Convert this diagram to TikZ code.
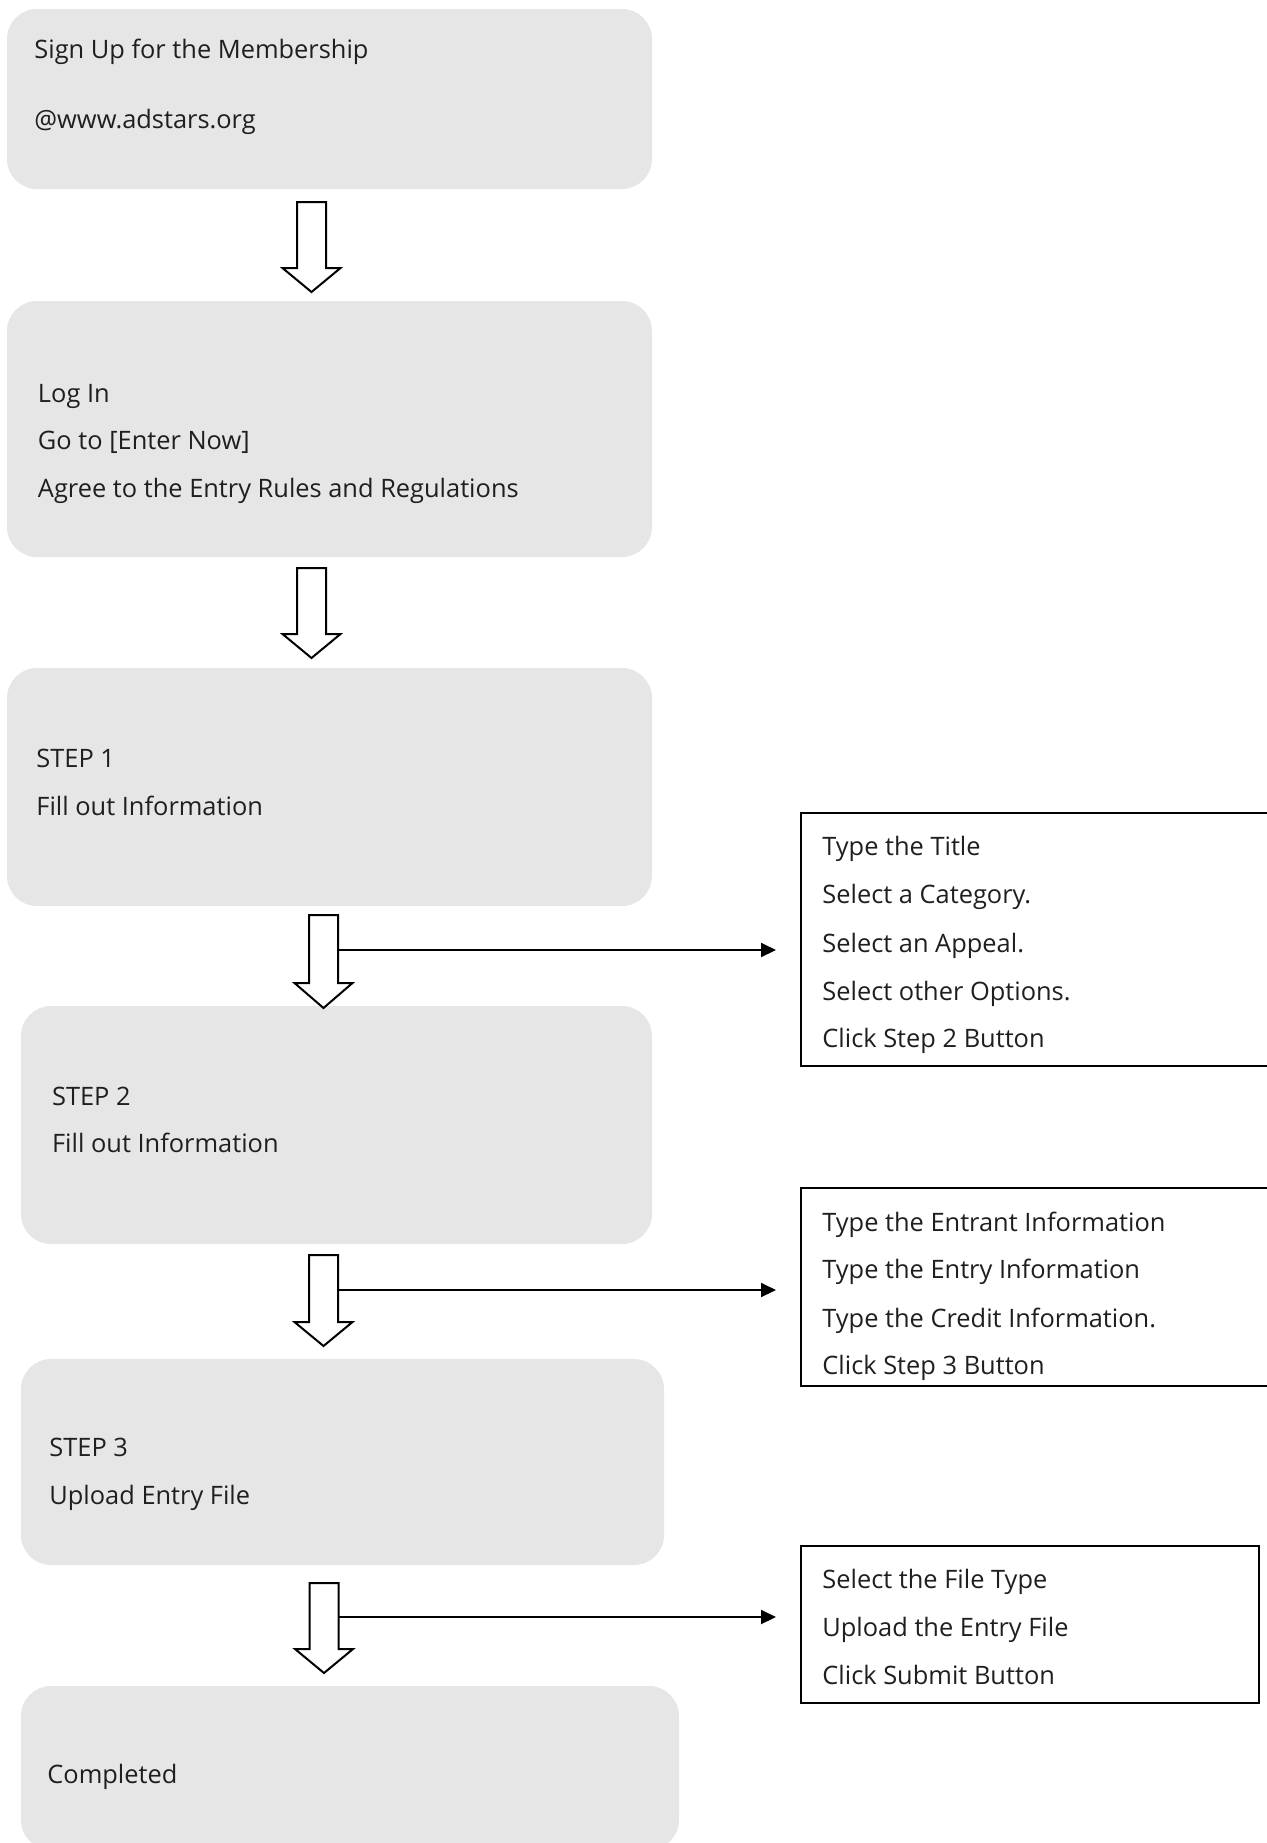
\documentclass[tikz,border=0pt]{standalone}
\usepackage{fontspec}
\setmainfont{Open Sans}
\usetikzlibrary{arrows.meta}
\definecolor{boxgray}{HTML}{E6E6E6}
\newcommand\myblockarrow[4]{%
  % #1 centre x, #2 top y, #3 head y, #4 tip y
  \draw[blk] (#1-14.5,#2) -- (#1+14.5,#2) -- (#1+14.5,#3) -- (#1+29,#3)
    -- (#1,#4) -- (#1-29,#3) -- (#1-14.5,#3) -- cycle;}
\begin{document}
\begin{tikzpicture}[x=0.5pt,y=-0.5pt,
  graybox/.style={fill=boxgray, draw=none, rounded corners=15pt, inner sep=0pt},
  listbox/.style={draw=black, line width=1pt, fill=white, inner sep=0pt},
  lbl/.style={anchor=base west, inner sep=0pt, text=black!88, font=\fontsize{12.7pt}{14pt}\selectfont},
  blk/.style={draw=black, line width=1pt, fill=white, line join=miter},
  conn/.style={line width=1pt, -{Triangle[length=7.5pt,width=7pt]}, shorten >=12pt}]
\useasboundingbox (0,0) rectangle (1266,1843);

% main grey boxes
\node[graybox, minimum width=322.5pt, minimum height=90pt]  (b1) at (329.5,99) {};
\node[graybox, minimum width=322.5pt, minimum height=128pt] (b2) at (329.5,429) {};
\node[graybox, minimum width=322.5pt, minimum height=119pt] (b3) at (329.5,787) {};
\node[graybox, minimum width=315.5pt, minimum height=119pt] (b4) at (336.5,1125) {};
\node[graybox, minimum width=321.5pt, minimum height=103pt] (b5) at (342.5,1462) {};
\node[graybox, minimum width=329pt,   minimum height=82pt]  (b6) at (350,1768) {};

% texts of grey boxes
\node[lbl] (t1a) at (34,58)  {Sign Up for the Membership};
\node[lbl] (t1b) at (34,128) {@www.adstars.org};
\node[lbl] (t2a) at (37.6,402) {Log In};
\node[lbl] (t2b) at (37.6,449) {Go to [Enter Now]};
\node[lbl] (t2c) at (37.6,497) {Agree to the Entry Rules and Regulations};
\node[lbl] (t3a) at (36,767) {STEP 1};
\node[lbl] (t3b) at (36,815) {Fill out Information};
\node[lbl] (t4a) at (51.7,1105) {STEP 2};
\node[lbl] (t4b) at (51.7,1152) {Fill out Information};
\node[lbl] (t5a) at (49,1456) {STEP 3};
\node[lbl] (t5b) at (49,1504) {Upload Entry File};
\node[lbl] (t6a) at (47,1783) {Completed};

% right list boxes
\node[listbox, minimum width=237pt, minimum height=126.5pt] (r1) at (1038,939.5) {};
\node[listbox, minimum width=237pt, minimum height=99pt]    (r2) at (1038,1287) {};
\node[listbox, minimum width=229pt, minimum height=78.5pt]  (r3) at (1030,1624.5) {};

\node[lbl] (r1a) at (822,855)  {Type the Title};
\node[lbl] (r1b) at (822,903)  {Select a Category.};
\node[lbl] (r1c) at (822,952)  {Select an Appeal.};
\node[lbl] (r1d) at (822,1000) {Select other Options.};
\node[lbl] (r1e) at (822,1047) {Click Step 2 Button};

\begin{scope}
  \clip (r2.north west) rectangle ([yshift=0.5pt]r2.south east);
  \node[lbl] (r2a) at (822,1231) {Type the Entrant Information};
  \node[lbl] (r2b) at (822,1278) {Type the Entry Information};
  \node[lbl] (r2c) at (822,1327) {Type the Credit Information.};
  \node[lbl] (r2d) at (822,1374) {Click Step 3 Button};
\end{scope}

\node[lbl] (r3a) at (822,1588) {Select the File Type};
\node[lbl] (r3b) at (822,1636) {Upload the Entry File};
\node[lbl] (r3c) at (822,1684) {Click Submit Button};

% block arrows between the steps
\myblockarrow{311.5}{202}{268}{292}
\myblockarrow{311.5}{568}{634}{658}
\myblockarrow{323.5}{915}{983}{1008}
\myblockarrow{323.5}{1255}{1322}{1346}
\myblockarrow{324}{1583}{1649}{1673}

% connectors to the list boxes
\coordinate (a3r) at (338,950);
\coordinate (a4r) at (338,1290);
\coordinate (a5r) at (338.5,1617);
\draw[conn] (a3r) -- (a3r -| r1.west);
\draw[conn] (a4r) -- (a4r -| r2.west);
\draw[conn] (a5r) -- (a5r -| r3.west);
\end{tikzpicture}
\end{document}
